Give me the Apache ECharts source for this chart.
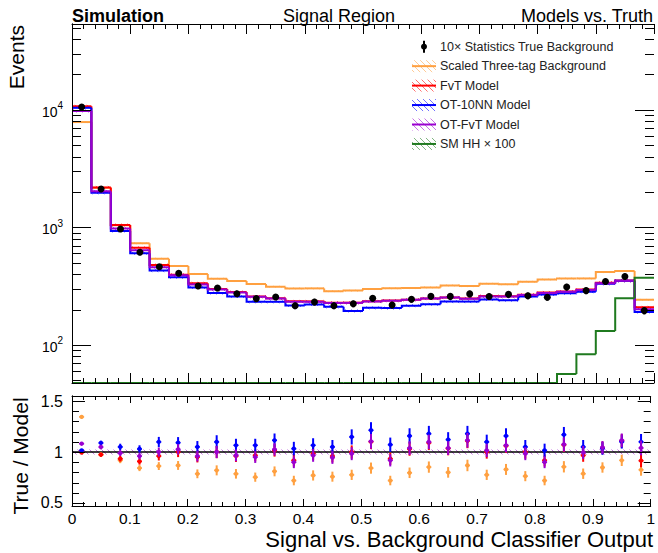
<!DOCTYPE html>
<html><head><meta charset="utf-8">
<script src="https://cdn.jsdelivr.net/npm/echarts@6/dist/echarts.min.js"></script>
<style>html,body{margin:0;padding:0;background:#fff}#c{width:658px;height:553px}</style>
</head><body><div id="c"></div>
<script>
// ---------------- data ----------------
const nBins = 30;               // bins of the classifier output, 0..1
const xTickLabels = ['0','0.1','0.2','0.3','0.4','0.5','0.6','0.7','0.8','0.9','1'];
const trueBkg  = [10570, 2120, 968, 614, 463, 407, 318, 305, 273, 248, 256, 216, 232, 216, 224, 250, 219, 245, 260, 259, 272, 258, 270, 262, 255, 311, 290, 347, 383, 196];
const threeTag = [7870, 2170, 1045, 733, 542, 470, 402, 366, 350, 330, 313, 303, 303, 287, 290, 299, 304, 305, 309, 321, 317, 332, 328, 345, 361, 368, 368, 417, 425, 242];
const fvt      = [10720, 2190, 1047, 671, 479, 396, 335, 299, 282, 258, 250, 235, 235, 229, 229, 235, 239, 243, 249, 254, 249, 261, 260, 268, 280, 285, 296, 339, 353, 209];
const ot10nn   = [10400, 1970, 931, 603, 429, 377, 309, 277, 259, 233, 233, 217, 221, 211, 195, 207, 206, 216, 222, 234, 234, 244, 240, 258, 269, 275, 284, 331, 351, 191];
const otFvt    = [9770, 2030, 978, 640, 458, 392, 327, 297, 280, 257, 248, 233, 233, 228, 228, 234, 238, 242, 248, 253, 247, 259, 258, 266, 277, 283, 293, 335, 351, 201];
const hh100    = [1, 1, 1, 1, 1, 1, 1, 1, 2, 2, 2, 2, 3, 3, 3, 4, 4, 5, 6, 7, 9, 11, 15, 21, 32, 56.6, 83.4, 131.5, 249.5, 373];
// ratio panel (True / Model)
const ratioThree = [1.345, 0.975, 0.918, 0.842, 0.862, 0.868, 0.786, 0.82, 0.786, 0.753, 0.81, 0.72, 0.77, 0.758, 0.776, 0.842, 0.72, 0.796, 0.852, 0.80, 0.868, 0.776, 0.829, 0.763, 0.72, 0.855, 0.787, 0.848, 0.918, 0.825];
const ratioFvt   = [0.995, 0.974, 0.934, 0.908, 0.96, 1.0, 0.95, 1.0, 0.96, 0.967, 1.016, 0.918, 0.984, 0.96, 1.0, 1.10, 0.934, 1.03, 1.09, 1.035, 1.11, 1.0, 1.06, 1.0, 0.918, 1.07, 0.967, 1.04, 1.11, 0.915];
const ratioOt10  = [1.016, 1.089, 1.05, 1.03, 1.099, 1.092, 1.05, 1.099, 1.066, 1.066, 1.115, 1.033, 1.066, 1.05, 1.148, 1.214, 1.072, 1.158, 1.18, 1.122, 1.18, 1.099, 1.158, 1.05, 1.016, 1.17, 1.05, 1.035, 1.10, 1.10];
const ratioOtFvt = [1.082, 1.049, 0.99, 0.96, 1.0, 1.026, 0.96, 1.0, 0.967, 0.95, 1.026, 0.90, 0.967, 0.945, 0.984, 1.105, 0.918, 1.039, 1.099, 1.039, 1.115, 1.016, 1.066, 0.984, 0.90, 1.075, 0.995, 1.045, 1.115, 1.04];
const relErr     = [0.008, 0.02, 0.03, 0.035, 0.045, 0.05, 0.055, 0.06, 0.06, 0.06, 0.06, 0.065, 0.065, 0.065, 0.065, 0.065, 0.065, 0.065, 0.065, 0.065, 0.065, 0.065, 0.065, 0.065, 0.065, 0.065, 0.065, 0.06, 0.06, 0.07];
// axes
const yMinTop = 47.5, yMaxTop = 53700;
const yMajorTop = [100, 1000, 10000];
const yMinorTop = [50, 60, 70, 80, 90, 200, 300, 400, 500, 600, 700, 800, 900, 2000, 3000, 4000, 5000, 6000, 7000, 8000, 9000, 20000, 30000, 40000, 50000];
const yMinBot = 0.47, yMaxBot = 1.55;
const yMajorBot = [0.5, 1, 1.5];
const yMinorBot = [0.6, 0.7, 0.8, 0.9, 1.1, 1.2, 1.3, 1.4];
const legendNames = ['10× Statistics True Background', 'Scaled Three-tag Background', 'FvT Model', 'OT-10NN Model', 'OT-FvT Model', 'SM HH × 100'];

// ---------------- style ----------------
const FONT = '"Liberation Sans", Arial, Helvetica, sans-serif';
const C_ORANGE = '#ffa040', C_RED = '#ff0000', C_BLUE = '#0000ff', C_PURPLE = '#9a00d0', C_GREEN = '#1f7a1f';

function hatch(color) {
  const s = 6;
  const c = document.createElement('canvas'); c.width = s; c.height = s;
  const g = c.getContext('2d');
  g.strokeStyle = color; g.globalAlpha = 0.55; g.lineWidth = 1;
  g.beginPath();
  g.moveTo(0, 0); g.lineTo(s, s);
  g.moveTo(-s, 0); g.lineTo(s, 2 * s);
  g.moveTo(0, -s); g.lineTo(2 * s, s);
  g.stroke();
  return {image: c, repeat: 'repeat', imageWidth: s, imageHeight: s};
}

const edges = [];
for (let i = 0; i <= nBins; i++) edges.push(i / nBins);

function histSeries(name, values, color, band, z) {
  const pat = band ? hatch(color) : null;
  const data = values.map((v, i) => [edges[i], edges[i + 1], v, i > 0 ? values[i - 1] : v]);
  return {
    type: 'custom', name, xAxisIndex: 0, yAxisIndex: 0, z, silent: true,
    data, encode: {x: [0, 1], y: [2]},
    renderItem(params, api) {
      const cs = params.coordSys;
      const top = cs.y, bot = cs.y + cs.height;
      const cl = y => Math.max(top, Math.min(bot, y));
      const lo = api.value(0), hi = api.value(1), v = api.value(2), vp = api.value(3);
      const x0 = api.coord([lo, v])[0], x1 = api.coord([hi, v])[0];
      const y = cl(api.coord([lo, v])[1]);
      const yp = cl(api.coord([lo, vp])[1]);
      const ch = [];
      if (band) {
        const yh = cl(api.coord([lo, v * (1 + band)])[1]);
        const yl = cl(api.coord([lo, v * (1 - band)])[1]);
        ch.push({type: 'rect', shape: {x: x0, y: yh, width: x1 - x0, height: yl - yh}, style: {fill: pat}});
      }
      ch.push({type: 'polyline', shape: {points: [[x0, yp], [x0, y], [x1, y]]},
               style: {stroke: color, lineWidth: 2, fill: null}});
      return {type: 'group', children: ch};
    }
  };
}

function pointSeries(values, errs, xi, yi, color, r, z) {
  const data = values.map((v, i) => [(edges[i] + edges[i + 1]) / 2, v, v * errs[i]]);
  return {
    type: 'custom', xAxisIndex: xi, yAxisIndex: yi, z, silent: true,
    data, encode: {x: 0, y: 1},
    renderItem(params, api) {
      const x = api.value(0), v = api.value(1), e = api.value(2);
      const p = api.coord([x, v]);
      const ph = api.coord([x, v + e]), pl = api.coord([x, v - e]);
      return {type: 'group', children: [
        {type: 'line', shape: {x1: p[0], y1: ph[1], x2: p[0], y2: pl[1]}, style: {stroke: color, lineWidth: 2}},
        {type: 'line', shape: {x1: p[0] - 2.5, y1: p[1], x2: p[0] + 2.5, y2: p[1]}, style: {stroke: color, lineWidth: 1.5}},
        {type: 'circle', shape: {cx: p[0], cy: p[1], r}, style: {fill: color}}
      ]};
    }
  };
}

function tickSeries(xi, yi, values, len, z) {
  return {
    type: 'custom', xAxisIndex: xi, yAxisIndex: yi, z: z || 20, silent: true,
    data: values.map(v => [0.5, v]), encode: {x: 0, y: 1},
    renderItem(params, api) {
      const cs = params.coordSys;
      const y = Math.round(api.coord([0.5, api.value(1)])[1]) + 0.5;
      if (y < cs.y - 0.5 || y > cs.y + cs.height + 0.5) return null;
      return {type: 'group', children: [
        {type: 'line', shape: {x1: cs.x, y1: y, x2: cs.x + len, y2: y}, style: {stroke: '#000', lineWidth: 1}},
        {type: 'line', shape: {x1: cs.x + cs.width - len, y1: y, x2: cs.x + cs.width, y2: y}, style: {stroke: '#000', lineWidth: 1}}
      ]};
    }
  };
}

function refSeries() {
  return {
    type: 'custom', xAxisIndex: 2, yAxisIndex: 2, z: 3, silent: true,
    data: [[0, 1, 1]], encode: {x: [0, 1], y: 2},
    renderItem(params, api) {
      const a = api.coord([0, 1.025]), b = api.coord([1, 0.975]);
      const l0 = api.coord([0, 1]), l1 = api.coord([1, 1]);
      return {type: 'group', children: [
        {type: 'rect', shape: {x: a[0], y: a[1], width: b[0] - a[0], height: b[1] - a[1]}, style: {fill: hatch(C_PURPLE)}},
        {type: 'line', shape: {x1: l0[0], y1: l0[1], x2: l1[0], y2: l1[1]}, style: {stroke: '#000', lineWidth: 1.5}}
      ]};
    }
  };
}

function xAx(grid, pos, labels, major, minor) {
  return {
    type: 'value', gridIndex: grid, position: pos, min: 0, max: 1, interval: 0.1, z: 30,
    axisLine: {show: true, onZero: false, lineStyle: {color: '#000', width: 1}},
    axisTick: {show: true, inside: true, length: major, lineStyle: {color: '#000'}},
    minorTick: {show: true, splitNumber: 5, length: minor, lineStyle: {color: '#000'}},
    splitLine: {show: false}, minorSplitLine: {show: false},
    axisLabel: labels ? {show: true, margin: 4, color: '#000', fontFamily: FONT, fontSize: 15.5,
      formatter: v => xTickLabels[Math.round(v * 10)]} : {show: false}
  };
}

const option = {
  animation: false,
  backgroundColor: '#fff',
  grid: [
    {left: 72, right: 4, top: 24, height: 359},
    {left: 72, right: 4, top: 396, height: 110}
  ],
  xAxis: [xAx(0, 'bottom', false, 10, 5), xAx(0, 'top', false, 10, 5),
          xAx(1, 'bottom', true, 7, 4), xAx(1, 'top', false, 7, 4)],
  yAxis: [
    {type: 'log', logBase: 10, gridIndex: 0, position: 'left', min: yMinTop, max: yMaxTop, z: 30,
     axisLine: {show: true, lineStyle: {color: '#000'}}, axisTick: {show: false},
     splitLine: {show: false}, minorTick: {show: false},
     axisLabel: {show: true, margin: 9, color: '#000', fontFamily: FONT,
       formatter: v => { const l = Math.log10(v); const n = Math.round(l);
         return Math.abs(l - n) < 1e-6 ? '{b|10}{s|' + n + '}' : ''; },
       rich: {b: {fontSize: 14, lineHeight: 18, fontFamily: FONT, color: '#000', verticalAlign: 'bottom'},
              s: {fontSize: 10, lineHeight: 10, fontFamily: FONT, color: '#000', verticalAlign: 'top'}}}},
    {type: 'log', logBase: 10, gridIndex: 0, position: 'right', min: yMinTop, max: yMaxTop, z: 30,
     axisLine: {show: true, lineStyle: {color: '#000'}}, axisTick: {show: false},
     splitLine: {show: false}, axisLabel: {show: false}},
    {type: 'value', gridIndex: 1, position: 'left', min: yMinBot, max: yMaxBot, z: 30,
     axisLine: {show: true, lineStyle: {color: '#000'}}, axisTick: {show: false},
     splitLine: {show: false},
     axisLabel: {show: true, customValues: yMajorBot, margin: 9, color: '#000', fontFamily: FONT, fontSize: 16,
       formatter: v => String(v)}},
    {type: 'value', gridIndex: 1, position: 'right', min: yMinBot, max: yMaxBot, z: 30,
     axisLine: {show: true, lineStyle: {color: '#000'}}, axisTick: {show: false},
     splitLine: {show: false}, axisLabel: {show: false}}
  ],
  series: [
    histSeries('Scaled Three-tag Background', threeTag, C_ORANGE, 0.02, 5),
    histSeries('FvT Model', fvt, C_RED, 0.03, 6),
    histSeries('OT-10NN Model', ot10nn, C_BLUE, 0.03, 7),
    histSeries('OT-FvT Model', otFvt, C_PURPLE, 0.03, 8),
    histSeries('SM HH × 100', hh100, C_GREEN, 0, 9),
    pointSeries(trueBkg, relErr, 0, 0, '#000', 3.5, 12),
    tickSeries(0, 0, yMajorTop, 19), tickSeries(0, 0, yMinorTop, 9),
    refSeries(),
    pointSeries(ratioThree, relErr, 2, 2, C_ORANGE, 2.2, 10),
    pointSeries(ratioFvt, relErr, 2, 2, C_RED, 2.2, 11),
    pointSeries(ratioOt10, relErr, 2, 2, C_BLUE, 2.2, 12),
    pointSeries(ratioOtFvt, relErr, 2, 2, C_PURPLE, 2.2, 13),
    tickSeries(2, 2, yMajorBot, 13), tickSeries(2, 2, yMinorBot, 7)
  ],
  graphic: []
};

// header texts, axis titles
const G = option.graphic;
const txt = (text, x, y, size, align, extra) => Object.assign({type: 'text', x, y, silent: true,
  style: Object.assign({text, fill: '#000', font: size + 'px ' + FONT, textAlign: align, textVerticalAlign: 'middle'}, extra || {})}, {});
G.push(txt('Simulation', 72, 15.8, 18, 'left', {font: 'bold 18px ' + FONT}));
G.push(txt('Signal Region', 283, 15.5, 18, 'left'));
G.push(txt('Models vs. Truth', 653, 15.5, 18, 'right'));
G.push(Object.assign(txt('Events', 16.7, 25, 21, 'right'), {rotation: Math.PI / 2}));
G.push(Object.assign(txt('True / Model', 20.7, 456, 21, 'center'), {rotation: Math.PI / 2}));
G.push(txt('Signal vs. Background Classifier Output', 653, 539.5, 22, 'right'));

// legend
const legColors = ['#000', C_ORANGE, C_RED, C_BLUE, C_PURPLE, C_GREEN];
const legY0 = 46.7, legDy = 19.45, legX0 = 412, legW = 24, legTx = 440;
legendNames.forEach((name, i) => {
  const cy = legY0 + i * legDy;
  if (i === 0) {
    G.push({type: 'line', silent: true, shape: {x1: legX0 + legW / 2, y1: cy - 6, x2: legX0 + legW / 2, y2: cy + 6}, style: {stroke: '#000', lineWidth: 2}});
    G.push({type: 'circle', silent: true, shape: {cx: legX0 + legW / 2, cy, r: 3}, style: {fill: '#000'}});
  } else {
    G.push({type: 'rect', silent: true, shape: {x: legX0, y: cy - 6, width: legW, height: 12}, style: {fill: hatch(legColors[i])}});
    G.push({type: 'line', silent: true, shape: {x1: legX0, y1: cy, x2: legX0 + legW, y2: cy}, style: {stroke: legColors[i], lineWidth: 2}});
  }
  G.push(txt(name, legTx, cy, 12.5, 'left', {fill: '#222'}));
});

const chart = echarts.init(document.getElementById('c'), null, {renderer: 'svg', width: 658, height: 553});
chart.setOption(option);
</script></body></html>
